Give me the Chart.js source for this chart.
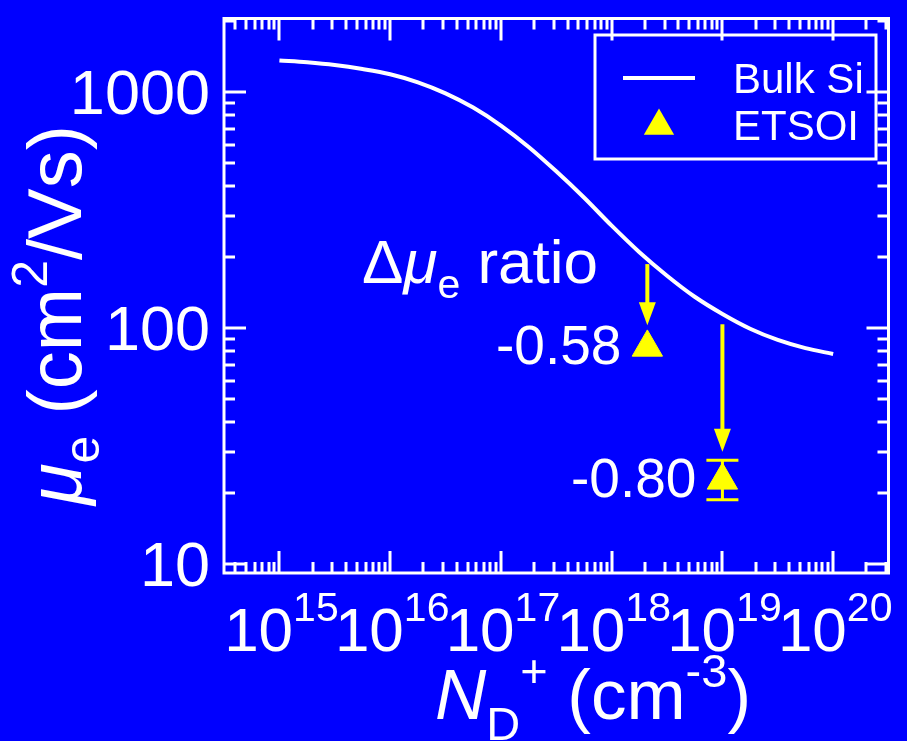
<!DOCTYPE html>
<html><head><meta charset="utf-8">
<script src="https://cdn.jsdelivr.net/npm/chart.js@4"></script>
<style>html,body{margin:0;padding:0;background:#0000ff;overflow:hidden}canvas{display:block}</style>
</head><body>
<canvas id="c" width="907" height="741"></canvas>
<script>
// ---- data ----
const bulkN  = [1e15, 1.78e15, 3.16e15, 5.62e15, 1e16, 1.78e16, 3.16e16, 5.62e16, 1e17, 1.78e17, 3.16e17, 5.62e17,
                1e18, 1.78e18, 3.16e18, 5.62e18, 1e19, 1.78e19, 3.16e19, 5.62e19, 1e20];
const bulkMu = [1362, 1337, 1302, 1252, 1190, 1100, 988, 860, 722, 586, 462, 358,
                272, 210, 167, 136, 115, 99.6, 89.3, 82.4, 77.8];
const etsoiN = [2.1e18, 1e19];
const etsoiMu = [83, 22.7];
const etsoiErrLow  = [null, 18.8];
const etsoiErrHigh = [null, 27.6];
const arrowN    = [2.1e18, 1e19];
const arrowFrom = [187, 104];
const arrowTo   = [103, 30];
const ratioLabels = ['-0.58', '-0.80'];
const xTickExps  = [15, 16, 17, 18, 19, 20];
const yTickValues = [10, 100, 1000];
const seriesNames = ['Bulk Si', 'ETSOI'];

const WHITE = '#ffffff', YELLOW = '#ffff00', BLUE = '#0000ff';
const FONT = '"Liberation Sans", Arial, Helvetica, sans-serif';
function font(size, italic){ return (italic ? 'italic ' : '') + size + 'px ' + FONT; }

function drawRich(ctx, segs, x, y, size, align){
  let total = 0;
  const parts = segs.map(s => {
    const sz = Math.round(size * (s.sc || 1));
    ctx.font = font(sz, s.it);
    const w = ctx.measureText(s.t).width;
    total += w;
    return {s, sz, w};
  });
  let cx = align === 'center' ? x - total / 2 : (align === 'right' ? x - total : x);
  ctx.textAlign = 'left';
  ctx.textBaseline = 'alphabetic';
  parts.forEach(p => {
    ctx.font = font(p.sz, p.s.it);
    ctx.fillText(p.s.t, cx, y + (p.s.dy || 0) * size);
    cx += p.w;
  });
}

function triangle(ctx, x, y, r){
  ctx.beginPath();
  for (let i = 0; i < 3; i++){
    const a = i * 2 * Math.PI / 3;
    const px = x + Math.sin(a) * r, py = y - Math.cos(a) * r;
    if (i === 0) ctx.moveTo(px, py); else ctx.lineTo(px, py);
  }
  ctx.closePath();
  ctx.fill();
}

const customPlugin = {
  id: 'custom',
  beforeDraw(chart){
    const ctx = chart.ctx;
    ctx.save();
    ctx.fillStyle = BLUE;
    ctx.fillRect(0, 0, chart.width, chart.height);
    ctx.restore();
  },
  beforeDatasetsDraw(chart){
    const ctx = chart.ctx, xs = chart.scales.x, ys = chart.scales.y;
    ctx.save();
    ctx.strokeStyle = YELLOW; ctx.fillStyle = YELLOW;
    // error bars
    etsoiN.forEach((n, i) => {
      if (etsoiErrLow[i] == null) return;
      const px = xs.getPixelForValue(n);
      const yl = ys.getPixelForValue(etsoiErrLow[i]);
      const yh = ys.getPixelForValue(etsoiErrHigh[i]);
      ctx.lineWidth = 3;
      ctx.beginPath();
      ctx.moveTo(px, yl); ctx.lineTo(px, yh);
      ctx.moveTo(px - 16, yl); ctx.lineTo(px + 16, yl);
      ctx.moveTo(px - 16, yh); ctx.lineTo(px + 16, yh);
      ctx.stroke();
    });
    // arrows
    arrowN.forEach((n, i) => {
      const px = xs.getPixelForValue(n);
      const y0 = ys.getPixelForValue(arrowFrom[i]);
      const y1 = ys.getPixelForValue(arrowTo[i]);
      const hl = 23, hw = 8.5;
      ctx.lineWidth = 4;
      ctx.beginPath();
      ctx.moveTo(px, y0); ctx.lineTo(px, y1 - hl + 2);
      ctx.stroke();
      ctx.beginPath();
      ctx.moveTo(px - hw, y1 - hl); ctx.lineTo(px + hw, y1 - hl); ctx.lineTo(px, y1);
      ctx.closePath(); ctx.fill();
    });
    ctx.restore();
  },
  afterDraw(chart){
    const ctx = chart.ctx, xs = chart.scales.x, ys = chart.scales.y;
    const a = chart.chartArea;
    ctx.save();
    ctx.strokeStyle = WHITE; ctx.fillStyle = WHITE;
    ctx.lineWidth = 3;
    ctx.lineCap = 'butt';
    // frame
    ctx.strokeRect(a.left, a.top, a.right - a.left, a.bottom - a.top);
    // ticks (inward, on all four sides)
    const MAJ = 22, MIN = 11;
    for (let e = 14; e <= 20; e++){
      for (let k = 1; k <= 9; k++){
        const v = k * Math.pow(10, e);
        if (v < xs.min || v > xs.max) continue;
        const px = Math.round(xs.getPixelForValue(v));
        const L = k === 1 ? MAJ : MIN;
        ctx.beginPath();
        ctx.moveTo(px, a.bottom); ctx.lineTo(px, a.bottom - L);
        ctx.moveTo(px, a.top); ctx.lineTo(px, a.top + L);
        ctx.stroke();
      }
    }
    for (let e = 0; e <= 3; e++){
      for (let k = 1; k <= 9; k++){
        const v = k * Math.pow(10, e);
        if (v < ys.min || v > ys.max) continue;
        const py = Math.round(ys.getPixelForValue(v));
        const L = k === 1 ? MAJ : MIN;
        ctx.beginPath();
        ctx.moveTo(a.left, py); ctx.lineTo(a.left + L, py);
        ctx.moveTo(a.right, py); ctx.lineTo(a.right - L, py);
        ctx.stroke();
      }
    }
    // x tick labels
    xTickExps.forEach(e => {
      const px = xs.getPixelForValue(Math.pow(10, e));
      drawRich(ctx, [{t: '10'}, {t: String(e), sc: 0.66, dy: -0.49}], px + 2, 651, 62, 'center');
    });
    // y tick labels
    yTickValues.forEach(v => {
      const py = ys.getPixelForValue(v);
      drawRich(ctx, [{t: String(v)}], 210, py + 22, 63, 'right');
    });
    // axis titles
    drawRich(ctx, [{t: 'N', it: true}, {t: 'D', sc: 0.66, dy: 0.3}, {t: '+', sc: 0.66, dy: -0.45},
                   {t: ' (cm'}, {t: '-3', sc: 0.66, dy: -0.45}, {t: ')'}], 593, 719, 71, 'center');
    ctx.save();
    ctx.translate(81, 315);
    ctx.rotate(-Math.PI / 2);
    drawRich(ctx, [{t: 'μ', it: true}, {t: 'e', sc: 0.66, dy: 0.24}, {t: ' (cm'},
                   {t: '2', sc: 0.66, dy: -0.45}, {t: '/Vs)'}], 0, 0, 76, 'center');
    ctx.restore();
    // annotations
    drawRich(ctx, [{t: 'Δ'}, {t: 'μ', it: true}, {t: 'e', sc: 0.66, dy: 0.24}, {t: ' ratio'}], 362, 283, 62, 'left');
    etsoiN.forEach((n, i) => {
      const px = xs.getPixelForValue(n), py = ys.getPixelForValue(etsoiMu[i]);
      drawRich(ctx, [{t: ratioLabels[i]}], px - 26, py + 17, 55, 'right');
    });
    // legend
    ctx.lineWidth = 3;
    ctx.strokeRect(595, 35, 281, 124);
    ctx.lineWidth = 4;
    ctx.beginPath(); ctx.moveTo(623, 78); ctx.lineTo(695, 78); ctx.stroke();
    ctx.fillStyle = YELLOW;
    triangle(ctx, 659, 126, 17.5);
    ctx.fillStyle = WHITE;
    drawRich(ctx, [{t: seriesNames[0]}], 733, 93, 42, 'left');
    drawRich(ctx, [{t: seriesNames[1]}], 733, 140, 42, 'left');
    ctx.restore();
  }
};

new Chart(document.getElementById('c'), {
  type: 'scatter',
  data: {
    datasets: [
      {
        label: seriesNames[0],
        data: bulkN.map((n, i) => ({x: n, y: bulkMu[i]})),
        showLine: true,
        borderColor: WHITE,
        borderWidth: 4,
        pointRadius: 0,
        cubicInterpolationMode: 'monotone',
        fill: false
      },
      {
        label: seriesNames[1],
        data: etsoiN.map((n, i) => ({x: n, y: etsoiMu[i]})),
        pointStyle: 'triangle',
        pointRadius: 17.5,
        backgroundColor: YELLOW,
        borderColor: YELLOW,
        borderWidth: 1
      }
    ]
  },
  options: {
    responsive: false,
    animation: false,
    layout: {padding: {left: 224, right: 5, top: 9, bottom: 168}},
    plugins: {legend: {display: false}, tooltip: {enabled: false}},
    scales: {
      x: {type: 'logarithmic', min: 3.16e14, max: 3.16e20, display: false},
      y: {type: 'logarithmic', min: 9.2, max: 2050, display: false}
    }
  },
  plugins: [customPlugin]
});
</script>
</body></html>
